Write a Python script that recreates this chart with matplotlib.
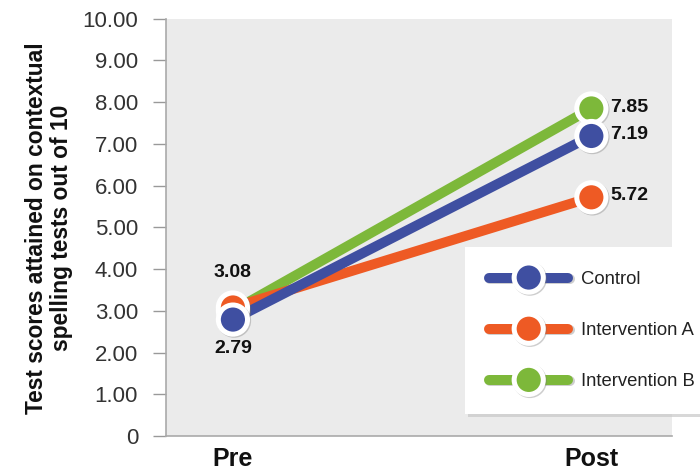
import matplotlib.pyplot as plt
import matplotlib.patheffects as pe
from matplotlib.lines import Line2D
from matplotlib.ticker import FuncFormatter

plt.rcParams['font.family'] = ['Liberation Sans', 'DejaVu Sans']

phases = ['Pre', 'Post']
groups = ['Control', 'Intervention A', 'Intervention B']
control = [2.79, 7.19]
intervention_a = [3.08, 5.72]
intervention_b = [3.0, 7.85]
colors = {'Control': '#3f4fa1', 'Intervention A': '#ee5a24', 'Intervention B': '#7db83a'}

fig = plt.figure(figsize=(7, 4.72), dpi=100)
ax = fig.add_axes([0.237, 0.0763, 0.723, 0.884])
ax.set_facecolor('#ebebeb')

x = list(range(len(phases)))
shadow = [pe.SimpleLineShadow(offset=(0.8, -0.8), shadow_color='0.45', alpha=0.35), pe.Normal()]
MS, MEW = 21, 3.6

# green goes underneath, blue on top
series = [('Intervention B', intervention_b), ('Intervention A', intervention_a), ('Control', control)]
for z, (name, vals) in enumerate(series):
    ax.plot(x, vals, color=colors[name], lw=7.2, solid_capstyle='butt', zorder=2 + z)
for z, (name, vals) in enumerate(series):
    ax.plot(x, vals, ls='none', marker='o', ms=MS, mfc=colors[name], mec='white', mew=MEW,
            zorder=6 + z, path_effects=shadow)

# value labels
lbl = dict(textcoords='offset points', fontsize=14, fontweight='bold', color='#111111', zorder=10)
ax.annotate(f'{intervention_a[0]:.2f}', (0, intervention_a[0]), xytext=(0, 25),
            ha='center', va='center', **lbl)
ax.annotate(f'{control[0]:.2f}', (0, control[0]), xytext=(0, -21),
            ha='center', va='center', **lbl)
for vals in (intervention_b, control, intervention_a):
    ax.annotate(f'{vals[1]:.2f}', (1, vals[1]), xytext=(13.5, 1),
                ha='left', va='center', **lbl)

ax.set_xlim(-0.187, 1.225)
ax.set_ylim(0, 10)
ax.set_yticks(range(0, 11))
ax.yaxis.set_major_formatter(FuncFormatter(lambda v, p: '0' if v == 0 else f'{v:.2f}'))
ax.set_xticks(x)
ax.set_xticklabels(phases, fontsize=18, fontweight='bold')
ax.tick_params(axis='x', length=0, pad=8, colors='#111111')
ax.tick_params(axis='y', length=9.5, width=1, color='#999999', pad=10.5, labelsize=16, labelcolor='#333333')

for s in ('top', 'right'):
    ax.spines[s].set_visible(False)
for s in ('left', 'bottom'):
    ax.spines[s].set_color('#aaaaaa')
    ax.spines[s].set_linewidth(1.2)

fig.text(0.07, 1 - 228 / 472, 'Test scores attained on contextual\nspelling tests out of 10',
         rotation=90, ha='center', va='center', fontsize=16.4, fontweight='bold', color='#111111',
         linespacing=1.15)

handles = [Line2D([0], [0], color=colors[g], lw=7.2, marker='o', ms=MS, mfc=colors[g], mec='white', mew=MEW)
           for g in groups]
leg = fig.legend(handles, groups, loc='upper left', bbox_to_anchor=(465 / 700, 1 - 247 / 472),
                 frameon=True, fancybox=False, fontsize=13.3, handlelength=4.3, handletextpad=0.7,
                 labelspacing=1.85, borderpad=1.3, borderaxespad=0,
                 shadow={'color': '#c8c8c8', 'alpha': 0.7})
leg.get_frame().set_edgecolor('white')
leg.get_frame().set_linewidth(0)
for t in leg.get_texts():
    t.set_color('#222222')
for ln in leg.get_lines():
    ln.set_solid_capstyle('round')
    ln.set_path_effects(shadow)

fig.savefig('out.png', dpi=100)
